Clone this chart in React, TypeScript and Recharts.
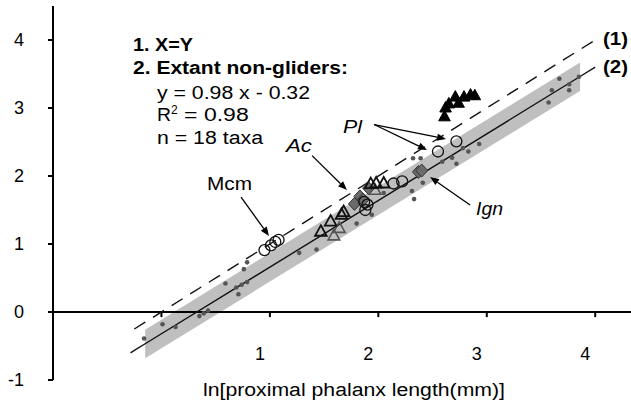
import React from 'react';
import { ComposedChart, Scatter, Line, Area, XAxis, YAxis, ReferenceLine } from 'recharts';

// Reference lines (regression 2 and X=Y 1) and the shaded band
const lineX = [-0.285, -0.25, -0.15, 3.86, 4.0];
const regressionY = [-0.6, -0.565, -0.467, 3.463, 3.6];
const identityY: (number | null)[] = [null, -0.25, -0.15, 3.86, 4.0];
const bandLow: (number | null)[] = [null, null, -0.68, 3.25, null];
const bandHigh: (number | null)[] = [null, null, -0.26, 3.67, null];

// Extant non-gliders (small grey dots)
const extantX = [-0.16, 0.01, 0.13, 0.35, 0.39, 0.43, 0.59, 0.69, 0.71, 0.74, 0.79, 0.76, 0.79, 1.27, 1.43, 1.8, 1.94, 2.05, 2.31, 2.33, 2.41, 2.32, 2.39, 2.59, 2.68, 2.72, 2.78, 2.83, 2.93, 3.57, 3.6, 3.67, 3.76, 3.76, 3.85];
const extantY = [-0.39, -0.18, -0.22, -0.06, -0.02, 0.02, 0.42, 0.36, 0.26, 0.4, 0.44, 0.63, 0.73, 0.87, 0.92, 1.3, 1.43, 1.75, 1.78, 1.66, 1.9, 2.26, 2.26, 2.21, 2.27, 2.18, 2.41, 2.36, 2.47, 3.08, 3.26, 3.43, 3.35, 3.26, 3.46];

// Open circles (Mcm, Pl and others)
const circleX = [0.95, 1.01, 1.05, 1.08, 1.88, 1.9, 1.87, 2.14, 2.22, 2.55, 2.72];
const circleY = [0.91, 0.98, 1.03, 1.06, 1.5, 1.58, 1.62, 1.89, 1.92, 2.36, 2.51];

// Open triangles (black outline)
const triX = [1.47, 1.56, 1.66, 1.68, 1.93, 1.98, 2.05];
const triY = [1.18, 1.33, 1.43, 1.47, 1.88, 1.89, 1.89];

// Open triangles (grey outline)
const greyTriX = [1.59, 1.64, 1.97];
const greyTriY = [1.12, 1.23, 1.79];

// Filled black triangles
const filledTriX = [2.61, 2.62, 2.65, 2.71, 2.74, 2.79, 2.85, 2.89];
const filledTriY = [2.87, 3.0, 3.06, 3.16, 3.07, 3.16, 3.19, 3.18];

// Grey diamonds
const diamondX = [1.78, 1.83, 1.86, 1.91, 2.37, 2.4];
const diamondY = [1.59, 1.7, 1.65, 1.82, 2.06, 2.08];

// Annotation arrows (from label to point), data coordinates
const arrowFromX = [0.734, 1.389, 1.961, 1.961, 2.846];
const arrowFromY = [1.69, 2.3, 2.757, 2.757, 1.574];
const arrowToX = [0.992, 1.711, 2.624, 2.449, 2.477];
const arrowToY = [1.118, 1.794, 2.544, 2.382, 1.985];

const xTickLabels = [1, 2, 3, 4];
const xTickMarks = [0, 1, 2, 3, 4];
const yTicks = [-1, 0, 1, 2, 3, 4];

const zip = (xs: number[], ys: number[]) => xs.map((x, i) => ({ x, y: ys[i] }));

const lineData = lineX.map((x, i) => ({
  x,
  reg: regressionY[i],
  xy: identityY[i],
  band: bandLow[i] === null ? null : [bandLow[i], bandHigh[i]],
}));

const FONT = '"Liberation Sans", Arial, Helvetica, sans-serif';

const Dot = (p: any) => <circle cx={p.cx} cy={p.cy} r={2.3} fill="#555" />;
const OpenCircle = (p: any) => (
  <circle cx={p.cx} cy={p.cy} r={5.5} fill="none" stroke="#111" strokeWidth={1.3} />
);
const triPoints = (cx: number, cy: number) =>
  `${cx},${cy - 6.5} ${cx + 5.8},${cy + 4} ${cx - 5.8},${cy + 4}`;
const OpenTri = (p: any) => (
  <polygon points={triPoints(p.cx, p.cy)} fill="none" stroke="#111" strokeWidth={1.8} />
);
const GreyTri = (p: any) => (
  <polygon points={triPoints(p.cx, p.cy)} fill="none" stroke="#555" strokeWidth={1.6} />
);
const FilledTri = (p: any) => <polygon points={triPoints(p.cx, p.cy)} fill="#000" stroke="#000" strokeWidth={1} />;
const Diamond = (p: any) => (
  <polygon
    points={`${p.cx},${p.cy - 6.5} ${p.cx + 6},${p.cy} ${p.cx},${p.cy + 6.5} ${p.cx - 6},${p.cy}`}
    fill="#6a6a6a"
    stroke="#333"
    strokeWidth={1}
  />
);

const ArrowShape = (p: any) => {
  const { x1, y1, x2, y2 } = p;
  if ([x1, y1, x2, y2].some((v) => v === undefined || Number.isNaN(v))) return <g />;
  const ang = Math.atan2(y2 - y1, x2 - x1);
  const L = 9;
  const W = 3.6;
  const bx = x2 - L * Math.cos(ang);
  const by = y2 - L * Math.sin(ang);
  const pts = `${x2},${y2} ${bx + W * Math.sin(ang)},${by - W * Math.cos(ang)} ${bx - W * Math.sin(ang)},${by + W * Math.cos(ang)}`;
  return (
    <g>
      <line x1={x1} y1={y1} x2={bx} y2={by} stroke="#000" strokeWidth={1.3} />
      <polygon points={pts} fill="#000" />
    </g>
  );
};

const XTick = (p: any) => (
  <text x={p.x - 10} y={p.y - 28} textAnchor="middle" fontSize={18} fontFamily={FONT} fill="#000">
    {p.payload.value}
  </text>
);

export default function App() {
  return (
    <div style={{ position: 'absolute', left: 0, top: 0, width: 631, height: 402, background: '#fff', fontFamily: FONT }}>
      <ComposedChart width={631} height={402} data={lineData} margin={{ top: 6, right: 0, bottom: 0, left: 0 }}>
        <XAxis
          type="number"
          dataKey="x"
          domain={[-1, 4.33]}
          ticks={xTickLabels}
          axisLine={false}
          tickLine={false}
          height={22}
          tick={<XTick />}
          allowDataOverflow
        />
        <YAxis
          type="number"
          dataKey="y"
          domain={[-1, 4.5]}
          ticks={yTicks}
          width={53}
          axisLine={{ stroke: '#000', strokeWidth: 2 }}
          tickLine={{ stroke: '#000', strokeWidth: 2 }}
          tickSize={5}
          tickMargin={24}
          tick={{ fill: '#000', fontSize: 18, fontFamily: FONT }}
          allowDataOverflow
        />
        <Area
          dataKey="band"
          stroke="none"
          fill="#bfbfbf"
          fillOpacity={1}
          isAnimationActive={false}
          activeDot={false}
          dot={false}
        />
        <ReferenceLine y={0} stroke="#000" strokeWidth={2} ifOverflow="visible" />
        {xTickMarks.map((t) => (
          <ReferenceLine
            key={t}
            segment={[{ x: t, y: 0 }, { x: t, y: -0.075 }]}
            stroke="#000"
            strokeWidth={2}
            ifOverflow="visible"
          />
        ))}
        <Line dataKey="xy" stroke="#111" strokeWidth={1.4} strokeDasharray="13 9" dot={false} isAnimationActive={false} activeDot={false} />
        <Line dataKey="reg" stroke="#111" strokeWidth={1.4} dot={false} isAnimationActive={false} activeDot={false} />
        <Scatter data={zip(extantX, extantY)} dataKey="y" shape={Dot} isAnimationActive={false} />
        <Scatter data={zip(diamondX, diamondY)} dataKey="y" shape={Diamond} isAnimationActive={false} />
        <Scatter data={zip(greyTriX, greyTriY)} dataKey="y" shape={GreyTri} isAnimationActive={false} />
        <Scatter data={zip(triX, triY)} dataKey="y" shape={OpenTri} isAnimationActive={false} />
        <Scatter data={zip(circleX, circleY)} dataKey="y" shape={OpenCircle} isAnimationActive={false} />
        <Scatter data={zip(filledTriX, filledTriY)} dataKey="y" shape={FilledTri} isAnimationActive={false} />
        {arrowFromX.map((fx, i) => (
          <ReferenceLine
            key={'a' + i}
            segment={[{ x: fx, y: arrowFromY[i] }, { x: arrowToX[i], y: arrowToY[i] }]}
            shape={ArrowShape}
            ifOverflow="visible"
          />
        ))}
      </ComposedChart>
      <svg
        width={631}
        height={402}
        style={{ position: 'absolute', left: 0, top: 0, pointerEvents: 'none' }}
        fontFamily={FONT}
        fill="#000"
      >
        <text x={133} y={51} fontSize={18} fontWeight="bold" textLength={60} lengthAdjust="spacingAndGlyphs">1. X=Y</text>
        <text x={133} y={74} fontSize={18} fontWeight="bold" textLength={215} lengthAdjust="spacingAndGlyphs">2. Extant non-gliders:</text>
        <text x={157} y={99} fontSize={18} textLength={153} lengthAdjust="spacingAndGlyphs">y = 0.98 x - 0.32</text>
        <text x={157} y={121} fontSize={18}>
          <tspan textLength={14} lengthAdjust="spacingAndGlyphs">R</tspan>
          <tspan dy={-7} fontSize={12}>2</tspan>
          <tspan dy={7} textLength={71} lengthAdjust="spacingAndGlyphs"> = 0.98</tspan>
        </text>
        <text x={157} y={144} fontSize={18} textLength={106} lengthAdjust="spacingAndGlyphs">n = 18 taxa</text>
        <text x={603} y={45} fontSize={18} fontWeight="bold" textLength={25} lengthAdjust="spacingAndGlyphs">(1)</text>
        <text x={603} y={73} fontSize={18} fontWeight="bold" textLength={25} lengthAdjust="spacingAndGlyphs">(2)</text>
        <text x={207} y={190} fontSize={19} textLength={45} lengthAdjust="spacingAndGlyphs">Mcm</text>
        <text x={286} y={152} fontSize={19} fontStyle="italic" textLength={26} lengthAdjust="spacingAndGlyphs">Ac</text>
        <text x={343} y={133} fontSize={19} fontStyle="italic" textLength={19} lengthAdjust="spacingAndGlyphs">Pl</text>
        <text x={476} y={215} fontSize={19} fontStyle="italic" textLength={27} lengthAdjust="spacingAndGlyphs">Ign</text>
        <text x={203} y={396} fontSize={18} textLength={302} lengthAdjust="spacingAndGlyphs">ln[proximal phalanx length(mm)]</text>
      </svg>
    </div>
  );
}
